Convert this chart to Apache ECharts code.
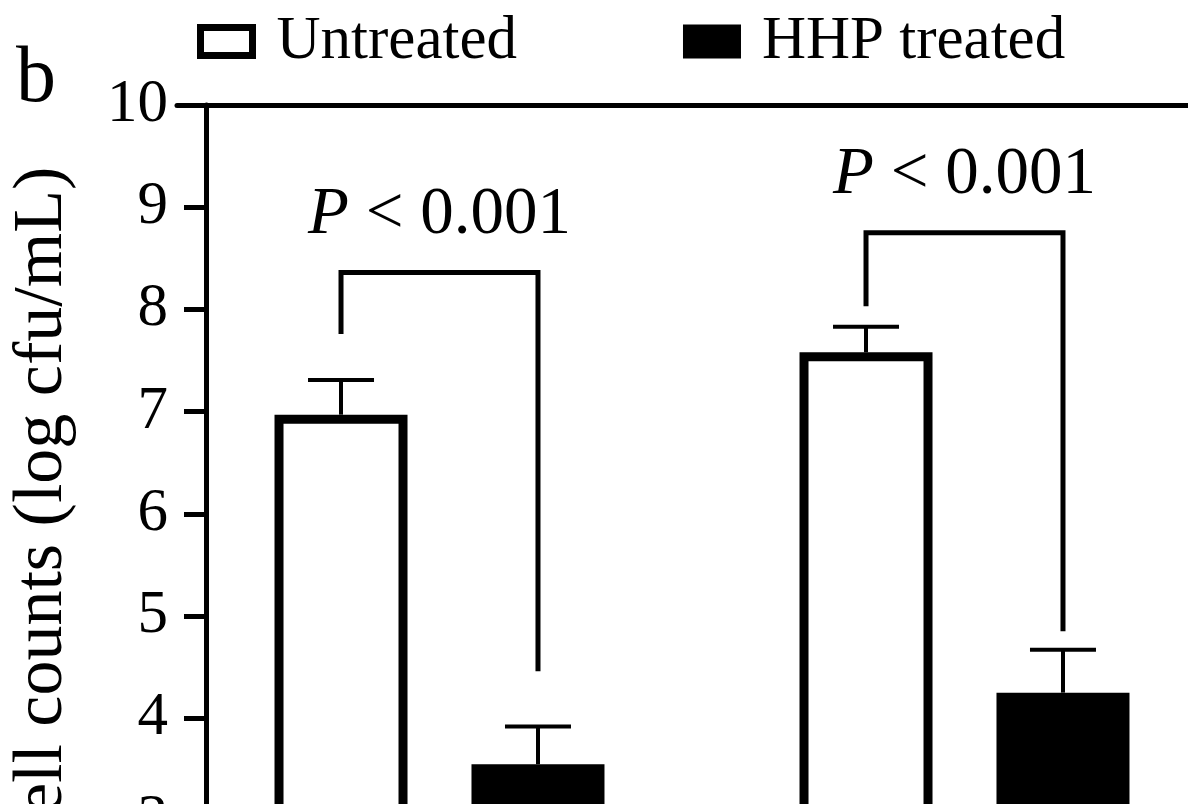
<!DOCTYPE html>
<html><head><meta charset="utf-8">
<script src="https://cdn.jsdelivr.net/npm/echarts@6/dist/echarts.min.js"></script>
<style>
html,body{margin:0;padding:0;overflow:hidden;background:#fff;width:1188px;height:804px}
#chart{width:1300px;height:1000px}
</style></head>
<body><div id="chart"></div>
<script>
// ---- data ----
const categories = ['Group 1', 'Group 2'];
const seriesNames = ['Untreated', 'HHP treated'];
const untreated = [6.97, 7.58];
const hhpTreated = [3.55, 4.25];
const untreatedSD = [0.34, 0.25];
const hhpTreatedSD = [0.37, 0.42];
// significance brackets (y values)
const bracketLeftEnd = [7.76, 8.03];
const bracketTop = [8.36, 8.75];
const bracketRightEnd = [4.46, 4.85];
const pValueText = ['< 0.001', '< 0.001'];
const yMin = 2, yMax = 10, yInterval = 1;

// ---- style ----
const SERIF = "'Liberation Serif','Times New Roman',serif";
const BAR_W = 133, BAR_GAP = 0.481;
const SHIFT = BAR_W * (1 + BAR_GAP) / 2;
const CAP = 33;

const chart = echarts.init(document.getElementById('chart'), null, {renderer: 'canvas'});

function errRender(sign) {
  return function (params, api) {
    const c = api.value(0), m = api.value(1), sd = api.value(2);
    const p0 = api.coord([c, m]);
    const p1 = api.coord([c, m + sd]);
    const x = p0[0] + sign * SHIFT;
    return {type: 'group', children: [
      {type: 'line', shape: {x1: x, y1: p0[1], x2: x, y2: p1[1]}, style: {stroke: '#000', lineWidth: 4}},
      {type: 'line', shape: {x1: x - CAP, y1: p1[1], x2: x + CAP, y2: p1[1]}, style: {stroke: '#000', lineWidth: 4}}
    ]};
  };
}

function bracketRender(params, api) {
  const c = api.value(0);
  const pl = api.coord([c, api.value(1)]);
  const pt = api.coord([c, api.value(2)]);
  const pr = api.coord([c, api.value(3)]);
  const xl = pl[0] - SHIFT, xr = pl[0] + SHIFT;
  const txt = pValueText[params.dataIndex];
  return {type: 'group', children: [
    {type: 'polyline', shape: {points: [[xl, pl[1]], [xl, pt[1]], [xr, pt[1]], [xr, pr[1]]]},
      style: {stroke: '#000', lineWidth: 5, fill: null}},
    {type: 'text', style: {
      text: '{i|P} ' + txt, x: (xl + xr) / 2, y: pt[1] - 24,
      align: 'center', verticalAlign: 'bottom',
      fontSize: 67, fontFamily: SERIF, fill: '#000',
      rich: {i: {fontStyle: 'italic', fontSize: 67, fontFamily: SERIF, fill: '#000'}}
    }}
  ]};
}

const option = {
  animation: false,
  backgroundColor: '#fff',
  title: {text: 'b', left: 16, top: 40, padding: 0,
    textStyle: {fontSize: 80, fontWeight: 'normal', fontFamily: SERIF, color: '#000'}},
  legend: {
    left: 197, top: 11, padding: 0, itemWidth: 52, itemHeight: 28, itemGap: 166,
    textStyle: {fontSize: 61, fontFamily: SERIF, color: '#000', padding: [14, 0, 0, 19]},
    data: [
      {name: seriesNames[0], icon: 'rect', itemStyle: {color: '#fff', borderColor: '#000', borderWidth: 7}},
      {name: seriesNames[1], icon: 'rect', itemStyle: {color: '#000', borderColor: '#000', borderWidth: 6}}
    ]
  },
  grid: {left: 176, top: 105, width: 1051, height: 817.6, containLabel: false},
  xAxis: [
    {type: 'category', data: categories, position: 'bottom',
      axisLine: {lineStyle: {color: '#000', width: 5}}, axisTick: {show: false},
      axisLabel: {show: false}},
    {type: 'category', data: categories, position: 'top',
      axisLine: {show: true, lineStyle: {color: '#000', width: 5}}, axisTick: {show: false},
      axisLabel: {show: false}}
  ],
  yAxis: {
    type: 'value', min: yMin, max: yMax, interval: yInterval, offset: -29,
    name: 'Cell counts (log cfu/mL)', nameLocation: 'middle', nameGap: 128, nameRotate: 90,
    nameTextStyle: {fontSize: 70, fontFamily: SERIF, color: '#000'},
    axisLine: {show: true, lineStyle: {color: '#000', width: 5}},
    axisTick: {show: true, length: 22, lineStyle: {color: '#000', width: 5}},
    axisLabel: {fontSize: 61, fontFamily: SERIF, color: '#000', margin: 38},
    splitLine: {show: false}
  },
  series: [
    {name: seriesNames[0], type: 'bar', data: untreated, barWidth: BAR_W, barGap: (BAR_GAP * 100) + '%',
      itemStyle: {color: '#fff', borderColor: '#000', borderWidth: 9}},
    {name: seriesNames[1], type: 'bar', data: hhpTreated, barWidth: BAR_W,
      itemStyle: {color: '#000', borderColor: '#000', borderWidth: 8}},
    {name: 'errU', type: 'custom', renderItem: errRender(-1), encode: {x: 0, y: [1]}, z: 5,
      data: untreated.map((v, i) => [i, v, untreatedSD[i]])},
    {name: 'errH', type: 'custom', renderItem: errRender(1), encode: {x: 0, y: [1]}, z: 5,
      data: hhpTreated.map((v, i) => [i, v, hhpTreatedSD[i]])},
    {name: 'sig', type: 'custom', renderItem: bracketRender, encode: {x: 0, y: [1, 2, 3]}, z: 5,
      data: categories.map((c, i) => [i, bracketLeftEnd[i], bracketTop[i], bracketRightEnd[i]])}
  ]
};
chart.setOption(option);
</script>
</body></html>
